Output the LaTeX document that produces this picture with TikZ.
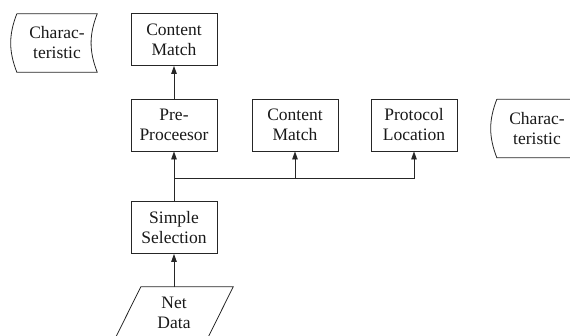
\documentclass[tikz,border=0pt]{standalone}
\usepackage{fontspec}
\setmainfont{Liberation Serif}
\usetikzlibrary{arrows.meta,calc}

\tikzset{
  ink/.style={draw=black!85, line width=0.8pt},
  label/.style={text=black!90, align=center, font=\fontsize{17.5}{20}\selectfont},
  box/.style={ink, label, rectangle, minimum width=86pt, minimum height=52pt, inner sep=0pt},
  storedata/.style={label, minimum width=80pt, minimum height=58pt, inner sep=0pt},
  datanode/.style={label, minimum width=92pt, minimum height=52pt, inner sep=0pt},
  arr/.style={ink, -{Triangle[length=8pt,width=5.5pt]}}
}

\begin{document}
\begin{tikzpicture}[x=1pt, y=-1pt]
  \useasboundingbox (0,0) rectangle (570,335);
  \clip (0,0) rectangle (570,335);

  % stored-data symbols
  \node[storedata] (ch1) at (57,43) {Charac-\\teristic};
  \node[storedata] (ch2) at (537,128.5) {Charac-\\teristic};
  \foreach \n in {ch1,ch2}{
    \draw[ink] (\n.north west) -- (\n.north east)
      to[bend right=21] (\n.south east) -- (\n.south west)
      to[bend left=21] (\n.north west);
  }

  % process boxes
  \node[box] (cmtop) at (174,39.5) {Content\\Match};
  \node[box] (pre)   at (174,125)  {Pre-\\Proceesor};
  \node[box] (cmmid) at (295,125)  {Content\\Match};
  \node[box] (ploc)  at (414,125)  {Protocol\\Location};
  \node[box] (sel)   at (174,227.5) {Simple\\Selection};

  % input data (parallelogram)
  \node[datanode] (net) at (174,313) {Net\\Data};
  \draw[ink] ($(net.north west)+(13,0)$) -- ($(net.north east)+(13,0)$)
    -- ($(net.south east)+(-13,0)$) -- ($(net.south west)+(-13,0)$) -- cycle;

  % connectors
  \coordinate (split) at (174,178);
  \draw[arr] (net.north) -- (sel.south);
  \draw[arr] (sel.north) -- (pre.south);
  \draw[arr] (pre.north) -- (cmtop.south);
  \draw[arr] (split) -| (ploc.south);
  \draw[arr] (cmmid.south |- split) -- (cmmid.south);
\end{tikzpicture}
\end{document}
